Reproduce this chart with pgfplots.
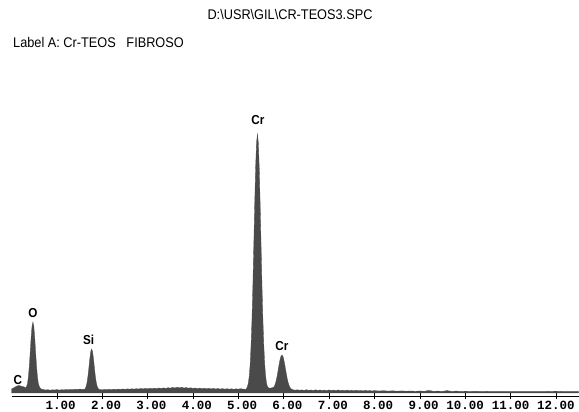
\documentclass[border=0pt]{standalone}
\usepackage{graphicx}
\usepackage{fontspec}
\setmainfont{Liberation Sans}
\newfontfamily\monofont{Liberation Mono}
\usepackage{pgfplots}
\pgfplotsset{compat=1.18}
\definecolor{specgray}{RGB}{74,74,74}
\begin{document}
\begin{tikzpicture}
\useasboundingbox (0,0) rectangle (579bp,412bp);
\node[anchor=base] at (290bp,392bp) {\fontsize{14bp}{14bp}\selectfont\scalebox{0.91}[1]{D:\textbackslash USR\textbackslash GIL\textbackslash CR-TEOS3.SPC}};
\node[anchor=base west, inner sep=0pt] at (13bp,364bp) {\fontsize{14bp}{14bp}\selectfont\scalebox{0.91}[1]{Label A: Cr-TEOS\ \ \ FIBROSO}};
\begin{axis}[
  at={(11.6bp,16bp)}, anchor=south west,
  scale only axis, width=567.4bp, height=303bp,
  xmin=0, xmax=12.51, ymin=-3, ymax=300,
  axis x line=bottom, axis y line=none,
  x axis line style={-, black, line width=0.8bp},
  xtick={1,2,3,4,5,6,7,8,9,10,11,12},
  xticklabels={\llap{1}.\rlap{00},\llap{2}.\rlap{00},\llap{3}.\rlap{00},\llap{4}.\rlap{00},\llap{5}.\rlap{00},\llap{6}.\rlap{00},\llap{7}.\rlap{00},\llap{8}.\rlap{00},\llap{9}.\rlap{00},\llap{10}.\rlap{00},\llap{11}.\rlap{00},\llap{12}.\rlap{00}},
  ytick=\empty,
  tick align=center, major tick length=5bp,
  tick style={black, line width=0.6bp},
  xticklabel style={anchor=north, inner sep=0pt, yshift=-2.5bp, font=\fontsize{12.5bp}{12.5bp}\selectfont\monofont\bfseries},
  clip=false,
]
\addplot[fill=specgray, draw=specgray, line width=0.3bp] coordinates {
(0.00,0) (0.00,4) (0.04,5) (0.08,6) (0.12,7) (0.16,7.5) (0.20,7) (0.24,6.5) (0.28,6)
(0.31,5) (0.33,6.5) (0.35,9.3) (0.37,16) (0.39,26.6) (0.41,40.5) (0.43,55.2) (0.45,66.6) (0.47,71)
(0.49,66.6) (0.51,55.2) (0.53,40.5) (0.55,26.6) (0.57,16) (0.59,9.3) (0.61,6.5) (0.63,5) (0.65,4)
(0.70,3.5) (0.75,3.0) (0.80,3.3) (0.85,2.8) (0.90,3.2) (0.95,3.0) (1.00,3.4) (1.05,2.9) (1.10,3.3)
(1.15,3.1) (1.20,3.5) (1.25,3.2) (1.30,3.6) (1.35,3.3) (1.40,3.8) (1.45,3.5) (1.50,3.9) (1.55,3.6)
(1.605,3.6) (1.625,4.6) (1.645,6.8) (1.665,10.9) (1.685,17.2) (1.705,25.6) (1.725,34.5) (1.745,41.4) (1.765,44)
(1.785,41.4) (1.805,34.5) (1.825,25.6) (1.845,17.2) (1.865,10.9) (1.885,6.8) (1.905,4.6) (1.925,3.6)
(1.95,3.5) (2.00,3.2) (2.05,3.6) (2.10,3.3) (2.15,3.7) (2.20,3.4) (2.25,3.8) (2.30,3.5) (2.35,3.9)
(2.40,3.6) (2.45,4.0) (2.50,3.7) (2.55,4.1) (2.60,3.8) (2.65,4.2) (2.70,3.9) (2.75,4.3) (2.80,4.0)
(2.85,4.5) (2.90,4.1) (2.95,4.6) (3.00,4.2) (3.05,4.7) (3.10,4.3) (3.15,4.8) (3.20,4.4) (3.25,5.0)
(3.30,4.5) (3.35,5.1) (3.40,4.6) (3.45,5.3) (3.50,4.8) (3.55,5.6) (3.60,5.0) (3.65,5.8) (3.70,5.2)
(3.75,5.7) (3.80,5.0) (3.85,5.4) (3.90,4.8) (3.95,5.2) (4.00,4.6) (4.05,5.0) (4.10,4.4) (4.15,4.9)
(4.20,4.3) (4.25,4.8) (4.30,4.2) (4.35,4.7) (4.40,4.1) (4.45,4.6) (4.50,4.0) (4.55,4.5) (4.60,3.9)
(4.65,4.4) (4.70,3.8) (4.75,4.3) (4.80,3.8) (4.85,4.2) (4.90,3.7) (4.95,4.2) (5.00,3.8) (5.05,4.3)
(5.10,3.9) (5.14,3.8)
(5.16,3.6) (5.18,4.5) (5.20,6.5) (5.22,10) (5.24,17) (5.26,29) (5.28,48) (5.30,74) (5.32,108)
(5.34,148) (5.36,189) (5.38,225) (5.40,250) (5.42,259) (5.44,250) (5.46,225) (5.48,189) (5.50,148)
(5.52,108) (5.54,74) (5.56,48) (5.58,29) (5.60,17) (5.62,10) (5.64,6.5) (5.66,5.2) (5.68,5.0)
(5.70,4.8) (5.72,5.0) (5.74,5.2) (5.76,5.4) (5.78,6.0) (5.80,7.3) (5.82,10) (5.84,13.7) (5.86,18.4)
(5.88,23.7) (5.90,29) (5.92,33.7) (5.94,36.9) (5.96,38) (5.98,36.9) (6.00,33.7) (6.02,29) (6.04,23.7)
(6.06,18.4) (6.08,13.7) (6.10,10) (6.12,7.3) (6.14,5.4) (6.16,4.3) (6.18,3.7) (6.20,3.3)
(6.25,2.8) (6.30,3.2) (6.35,2.7) (6.40,3.1) (6.45,2.6) (6.50,3.3) (6.55,2.7) (6.60,3.0) (6.65,2.5)
(6.70,3.2) (6.75,2.6) (6.80,3.0) (6.85,2.5) (6.90,2.9) (6.95,2.4) (7.00,3.1) (7.05,2.5) (7.10,2.9)
(7.15,2.4) (7.20,3.0) (7.25,2.4) (7.30,2.8) (7.35,2.3) (7.40,2.9) (7.45,2.3) (7.50,2.7) (7.55,2.2)
(7.60,2.8) (7.65,2.2) (7.70,2.6) (7.75,2.1) (7.80,2.7) (7.85,2.1) (7.90,2.5) (7.95,2.0) (8.00,2.4)
(8.10,2.0) (8.20,2.3) (8.30,1.9) (8.40,2.2) (8.50,1.8) (8.60,2.1) (8.70,1.8) (8.80,2.0) (8.90,1.7)
(9.00,2.0) (9.10,1.7) (9.20,2.6) (9.30,1.7) (9.40,1.9) (9.50,1.6) (9.60,2.4) (9.70,1.6) (9.80,1.9)
(9.90,1.6) (10.00,1.8) (10.20,1.6) (10.40,1.7) (10.60,1.5) (10.80,1.6) (11.00,1.5) (11.20,1.6)
(11.40,1.5) (11.60,1.5) (11.80,1.6) (12.00,1.8) (12.20,1.5) (12.50,1.5) (12.50,0)
} -- cycle;
\tikzset{pk/.style={anchor=south, inner sep=0pt, font=\fontsize{13bp}{13bp}\selectfont\bfseries}}
\node[pk] at (axis cs:0.14,8) {\scalebox{0.9}[1]{C}};
\node[pk] at (axis cs:0.47,75) {\scalebox{0.9}[1]{O}};
\node[pk] at (axis cs:1.70,48) {\scalebox{0.9}[1]{Si}};
\node[pk] at (axis cs:5.43,268) {\scalebox{0.9}[1]{Cr}};
\node[pk] at (axis cs:5.96,42) {\scalebox{0.9}[1]{Cr}};
\end{axis}
\end{tikzpicture}
\end{document}
